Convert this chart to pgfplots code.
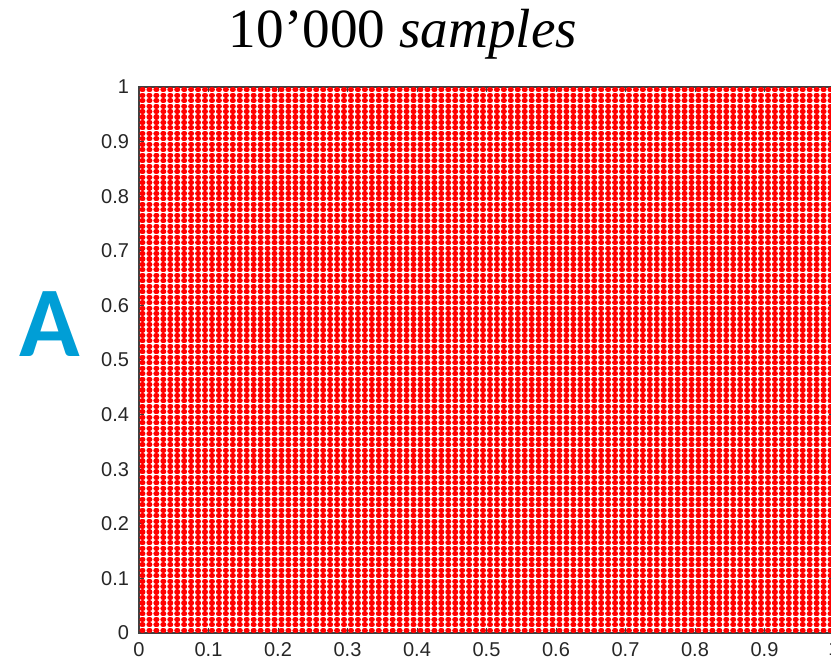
\documentclass[border=0pt]{standalone}
\usepackage{fontspec}
\setmainfont{Liberation Sans}
\newfontfamily\titlefont{Liberation Serif}
\newfontfamily\labelfont{Carlito}
\usepackage{pgfplots}
\usepackage{pgfplotstable}
\pgfplotsset{compat=1.18}

\definecolor{panelblue}{RGB}{0,158,214}
\definecolor{framegray}{RGB}{64,64,64}

% A light-weight, slightly wide dot: a short stroke with round caps;
% its height is the line width.
\pgfdeclareplotmark{rdot}{%
  \pgfpathmoveto{\pgfqpoint{-0.22pt}{0pt}}%
  \pgfpathlineto{\pgfqpoint{0.22pt}{0pt}}%
  \pgfusepathqstroke}

% Grid levels used for both coordinates (100 x 100 = 10'000 samples)
\pgfplotstableread{
x
0.005
0.015
0.025
0.035
0.045
0.055
0.065
0.075
0.085
0.095
0.105
0.115
0.125
0.135
0.145
0.155
0.165
0.175
0.185
0.195
0.205
0.215
0.225
0.235
0.245
0.255
0.265
0.275
0.285
0.295
0.305
0.315
0.325
0.335
0.345
0.355
0.365
0.375
0.385
0.395
0.405
0.415
0.425
0.435
0.445
0.455
0.465
0.475
0.485
0.495
0.505
0.515
0.525
0.535
0.545
0.555
0.565
0.575
0.585
0.595
0.605
0.615
0.625
0.635
0.645
0.655
0.665
0.675
0.685
0.695
0.705
0.715
0.725
0.735
0.745
0.755
0.765
0.775
0.785
0.795
0.805
0.815
0.825
0.835
0.845
0.855
0.865
0.875
0.885
0.895
0.905
0.915
0.925
0.935
0.945
0.955
0.965
0.975
0.985
0.995
}\levels

% comma list of the same levels, for the rows of the grid
\gdef\ylist{}
\pgfplotstableforeachcolumnelement{x}\of\levels\as\cell{%
  \ifx\ylist\empty\xdef\ylist{\cell}\else\xdef\ylist{\ylist,\cell}\fi}

\begin{document}
\begin{tikzpicture}
\useasboundingbox (0,0) rectangle (415.5pt,331pt);

\node[font=\titlefont\fontsize{27.6}{28}\selectfont, anchor=base]
  at (201.5pt,307pt) {10’000 \textit{samples}};
\node[font=\labelfont\bfseries\fontsize{50}{50}\selectfont, text=panelblue, anchor=base]
  at (25pt,152.5pt) {A};

\begin{axis}[
  at={(69.5pt,14.5pt)}, anchor=south west,
  scale only axis, width=347.5pt, height=273pt,
  xmin=0, xmax=1, ymin=0, ymax=1,
  xtick={0,0.1,0.2,0.3,0.4,0.5,0.6,0.7,0.8,0.9,1},
  ytick={0,0.1,0.2,0.3,0.4,0.5,0.6,0.7,0.8,0.9,1},
  tick align=inside,
  major tick length=2.5pt,
  tick style={color=framegray, line width=0.5pt},
  axis line style={color=framegray, line width=0.9pt},
  ticklabel style={font=\fontsize{10}{10}\selectfont, text=black!85},
  /pgf/number format/assume math mode=true,
  /pgf/number format/fixed,
  xticklabel style={yshift=-1pt},
  yticklabel style={xshift=-1.5pt},
  clip=false,
  axis on top,
]
\foreach \yv in \ylist{
  \addplot[only marks, mark=rdot, color=red,
           mark options={line width=2.55pt, line cap=round}]
    table[x index=0, y index=0, y expr=\yv] {\levels};
}
\end{axis}
\end{tikzpicture}
\end{document}
